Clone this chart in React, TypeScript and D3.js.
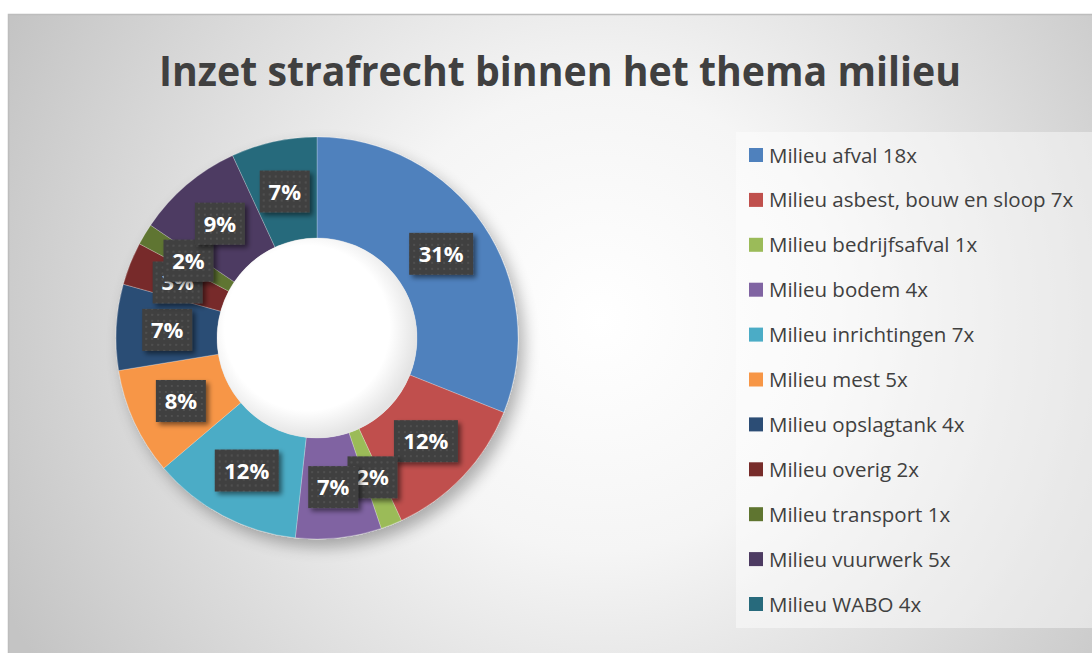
import React from "react";
import * as d3 from "d3";

const categories = [
  "Milieu afval 18x",
  "Milieu asbest, bouw en sloop 7x",
  "Milieu bedrijfsafval 1x",
  "Milieu bodem 4x",
  "Milieu inrichtingen 7x",
  "Milieu mest 5x",
  "Milieu opslagtank 4x",
  "Milieu overig 2x",
  "Milieu transport 1x",
  "Milieu vuurwerk 5x",
  "Milieu WABO 4x",
];
const values = [18, 7, 1, 4, 7, 5, 4, 2, 1, 5, 4];
const pctLabels = ["31%", "12%", "2%", "7%", "12%", "8%", "7%", "3%", "2%", "9%", "7%"];
const colors = [
  "#4F81BD", "#C0504D", "#9BBB59", "#8064A2", "#4BACC6", "#F79646",
  "#2C4D75", "#772C2A", "#5F7530", "#4D3B62", "#276A7C",
];
const title = "Inzet strafrecht binnen het thema milieu";

const W = 1092, H = 653;
const cx = 317, cy = 338, rOuter = 201, rInner = 100, rLabel = 150;

export default function App() {
  const pie = d3.pie<number>().sort(null).value((d) => d)(values);
  const arc = d3.arc<d3.PieArcDatum<number>>().innerRadius(rInner).outerRadius(rOuter);
  const labelArc = d3.arc<d3.PieArcDatum<number>>().innerRadius(rLabel).outerRadius(rLabel);
  const font = "'Open Sans', 'DejaVu Sans', sans-serif";
  const legendY = d3.scaleLinear().domain([0, categories.length - 1]).range([155, 604]);

  return (
    <svg width={W} height={H} style={{ position: "absolute", left: 0, top: 0 }}>
      <defs>
        <radialGradient id="bg" gradientUnits="userSpaceOnUse" cx={600} cy={320} r={660}>
          <stop offset="0" stopColor="#ffffff" />
          <stop offset="0.35" stopColor="#f5f5f5" />
          <stop offset="1" stopColor="#c4c4c4" />
        </radialGradient>
        <pattern id="dots" width="6" height="6" patternUnits="userSpaceOnUse">
          <rect width="6" height="6" fill="#404040" />
          <circle cx="3" cy="3" r="0.9" fill="#585858" />
        </pattern>
        <filter id="shadow" x="-20%" y="-20%" width="150%" height="150%">
          <feGaussianBlur in="SourceAlpha" stdDeviation="8" />
          <feOffset dx="6" dy="8" result="b" />
          <feComponentTransfer><feFuncA type="linear" slope="0.3" /></feComponentTransfer>
          <feMerge><feMergeNode /><feMergeNode in="SourceGraphic" /></feMerge>
        </filter>
        <filter id="lshadow" x="-30%" y="-30%" width="170%" height="170%">
          <feGaussianBlur in="SourceAlpha" stdDeviation="2.5" />
          <feOffset dx="3" dy="3" />
          <feComponentTransfer><feFuncA type="linear" slope="0.5" /></feComponentTransfer>
          <feMerge><feMergeNode /><feMergeNode in="SourceGraphic" /></feMerge>
        </filter>
        <radialGradient id="hole" cx="0.45" cy="0.45" r="0.55">
          <stop offset="0.75" stopColor="#ffffff" />
          <stop offset="1" stopColor="#e4e4e4" />
        </radialGradient>
      </defs>
      <rect x={0} y={0} width={W} height={H} fill="#ffffff" />
      <rect x={8.5} y={14.5} width={W} height={H} fill="url(#bg)" stroke="#bdbdbd" strokeWidth={1.5} />

      <text x={560} y={86} textAnchor="middle" fontFamily={font} fontWeight="bold" fontSize={42}
        fill="#404040" textLength={802} lengthAdjust="spacingAndGlyphs">{title}</text>

      <g transform={`translate(${cx},${cy})`}>
        <g filter="url(#shadow)">
          {pie.map((p, i) => (
            <path key={i} d={arc(p) || ""} fill={colors[i]} stroke="#ffffff" strokeOpacity={0.35} strokeWidth={0.7} />
          ))}
        </g>
        <circle r={rInner} fill="url(#hole)" />
        {pie.map((p, i) => {
          const [x, y] = labelArc.centroid(p);
          const w = pctLabels[i].length > 2 ? 64 : 50;
          return (
            <g key={i} transform={`translate(${x},${y})`}>
              <rect x={-w / 2} y={-21} width={w} height={42} fill="url(#dots)" filter="url(#lshadow)" />
              <text x={0} y={8} textAnchor="middle" fontFamily={font} fontWeight="bold" fontSize={22}
                fill="#ffffff">{pctLabels[i]}</text>
            </g>
          );
        })}
      </g>

      <rect x={736} y={132} width={W - 736} height={496} fill="#ffffff" fillOpacity={0.45} />
      {categories.map((c, i) => (
        <g key={c} transform={`translate(749,${legendY(i)})`}>
          <rect x={0} y={-7} width={14} height={14} fill={colors[i]} />
          <text x={20} y={7.5} fontFamily={font} fontSize={20.5} fill="#404040">{c}</text>
        </g>
      ))}
    </svg>
  );
}
